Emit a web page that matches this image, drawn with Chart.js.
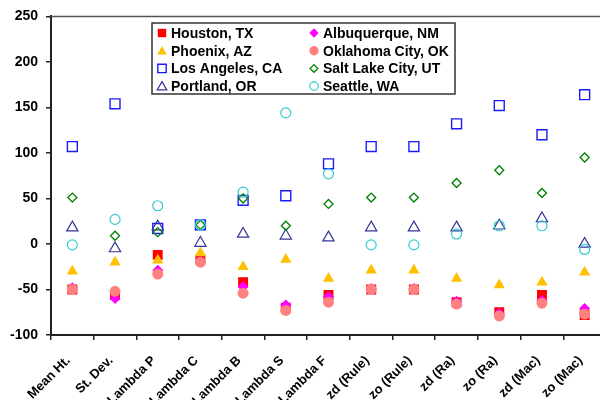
<!DOCTYPE html>
<html>
<head>
<meta charset="utf-8">
<script src="https://cdn.jsdelivr.net/npm/chart.js@4.4.1/dist/chart.umd.min.js"></script>
<style>
  html, body { margin: 0; padding: 0; background: #fff; overflow: hidden; }
  #wrap { position: relative; width: 620px; height: 440px; }
</style>
</head>
<body>
<div id="wrap"><canvas id="myChart"></canvas></div>
<script>
// Categories along x
const categories = ['Mean Ht.', 'St. Dev.', 'Lambda P', 'Lambda C', 'Lambda B', 'Lambda S', 'Lambda F',
    'zd (Rule)', 'zo (Rule)', 'zd (Ra)', 'zo (Ra)', 'zd (Mac)', 'zo (Mac)'];

// Series values
const houston      = [-50, -56, -12, -17, -42, -70, -56, -50, -50, -64, -75, -56, -78];
const phoenix      = [-30, -20, -18, -10, -25, -17, -38, -29, -29, -38, -45, -42, -31];
const losAngeles   = [107, 154, 17, 21, 48, 53, 88, 107, 107, 132, 152, 120, 164];
const portland     = [18, -5, 19, 1, 11, 9, 7, 18, 18, 18, 20, 28, 0];
const albuquerque  = [-48, -60, -29, -19, -47, -67, -58, -49, -49, -63, -76, -62, -71];
const oklahomaCity = [-50, -52, -33, -20, -54, -73, -64, -50, -50, -66, -79, -65, -77];
const saltLakeCity = [51, 9, 13, 21, 50, 20, 44, 51, 51, 67, 81, 56, 95];
const seattle      = [-1, 27, 42, 21, 57, 144, 77, -1, -1, 11, 20, 20, -6];

// Y axis ticks
const yMin = -100;
const yMax = 250;
const yStep = 50;

const seriesNames = ['Houston, TX', 'Phoenix, AZ', 'Los Angeles, CA', 'Portland, OR',
    'Albuquerque, NM', 'Oklahoma City, OK', 'Salt Lake City, UT', 'Seattle, WA'];
const seriesValues = [houston, phoenix, losAngeles, portland, albuquerque, oklahomaCity, saltLakeCity, seattle];

// marker styles
const seriesStyles = [
    { pointStyle: 'rect',     radius: 7,   fill: '#FF0000', stroke: '#FF0000', width: 0 },
    { pointStyle: 'triangle', radius: 6.5, fill: '#FFC000', stroke: '#FFC000', width: 0 },
    { pointStyle: 'rect',     radius: 7,   fill: 'rgba(0,0,0,0)', stroke: '#1a1aff', width: 1.4 },
    { pointStyle: 'triangle', radius: 6.5, fill: 'rgba(0,0,0,0)', stroke: '#333399', width: 1.2 },
    { pointStyle: 'rectRot',  radius: 5.5, fill: '#FF00FF', stroke: '#FF00FF', width: 0 },
    { pointStyle: 'circle',   radius: 5.5, fill: '#FF8080', stroke: '#FF8080', width: 0 },
    { pointStyle: 'rectRot',  radius: 4.5, fill: 'rgba(0,0,0,0)', stroke: '#008000', width: 1.3 },
    { pointStyle: 'circle',   radius: 5,   fill: 'rgba(0,0,0,0)', stroke: '#33CCCC', width: 1.2 },
];

const FONT = "'Liberation Sans', Arial, sans-serif";

// legend box drawn on top of the plot, two columns of four
const legendPlugin = {
    id: 'boxLegend',
    afterDraw(chart) {
        const ctx = chart.ctx;
        const bx = 152, by = 23, bw = 303, bh = 71;
        ctx.save();
        ctx.fillStyle = '#fff';
        ctx.fillRect(bx, by, bw, bh);
        ctx.strokeStyle = '#333';
        ctx.lineWidth = 1.5;
        ctx.strokeRect(bx, by, bw, bh);
        ctx.font = 'bold 14px ' + FONT;
        ctx.textBaseline = 'middle';
        seriesNames.forEach((name, i) => {
            const col = Math.floor(i / 4);
            const row = i % 4;
            const mx = col === 0 ? 162 : 314;
            const my = by + 10 + row * 17.7;
            const s = seriesStyles[i];
            ctx.fillStyle = s.fill;
            ctx.strokeStyle = s.stroke;
            ctx.lineWidth = s.width;
            Chart.helpers.drawPoint(ctx, {
                pointStyle: s.pointStyle, radius: s.radius * 0.85, rotation: 0, borderWidth: s.width
            }, mx, my + (s.pointStyle === 'triangle' ? 1 : 0));
            ctx.fillStyle = '#000';
            ctx.fillText(name, mx + 9, my + 1);
        });
        ctx.restore();
    }
};

// top edge of the plot area
const frameTop = {
    id: 'frameTop',
    beforeDatasetsDraw(chart) {
        const { ctx, chartArea } = chart;
        ctx.save();
        ctx.strokeStyle = '#555';
        ctx.lineWidth = 1.5;
        ctx.beginPath();
        ctx.moveTo(chartArea.left, chartArea.top);
        ctx.lineTo(chartArea.right, chartArea.top);
        ctx.lineTo(chartArea.right, chartArea.bottom);
        ctx.stroke();
        ctx.restore();
    }
};

function createScatterChart() {
    const ctx = document.getElementById('myChart').getContext('2d');
    new Chart(ctx, {
        type: 'line',
        data: {
            labels: categories,
            datasets: seriesNames.map((name, i) => ({
                label: name,
                data: seriesValues[i],
                showLine: false,
                pointStyle: seriesStyles[i].pointStyle,
                pointRadius: seriesStyles[i].radius,
                pointBackgroundColor: seriesStyles[i].fill,
                pointBorderColor: seriesStyles[i].stroke,
                pointBorderWidth: seriesStyles[i].width,
                order: seriesNames.length - i,
            })),
        },
        options: {
            responsive: true,
            maintainAspectRatio: false,
            animation: false,
            events: [],
            layout: { padding: { top: 16, right: 14, left: 0, bottom: 0 } },
            plugins: {
                legend: { display: false },
                tooltip: { enabled: false },
            },
            scales: {
                x: {
                    offset: true,
                    grid: { offset: true, drawOnChartArea: false, tickLength: 5, color: '#222', lineWidth: 1.5 },
                    border: { color: '#222', width: 2 },
                    ticks: {
                        autoSkip: false, minRotation: 45, maxRotation: 45, padding: 13, labelOffset: -4,
                        color: '#000', font: { family: FONT, size: 13, weight: 'bold' },
                    },
                    afterFit: (scale) => { scale.height = 105; },
                },
                y: {
                    min: yMin,
                    max: yMax,
                    grid: { drawOnChartArea: false, tickLength: 5, color: '#222', lineWidth: 1.5 },
                    border: { color: '#222', width: 2 },
                    ticks: {
                        stepSize: yStep, padding: 8,
                        color: '#000', font: { family: FONT, size: 14, weight: 'bold' },
                    },
                    afterFit: (scale) => { scale.width = 51; },
                },
            },
        },
        plugins: [frameTop, legendPlugin],
    });
}

createScatterChart();
</script>
</body>
</html>
